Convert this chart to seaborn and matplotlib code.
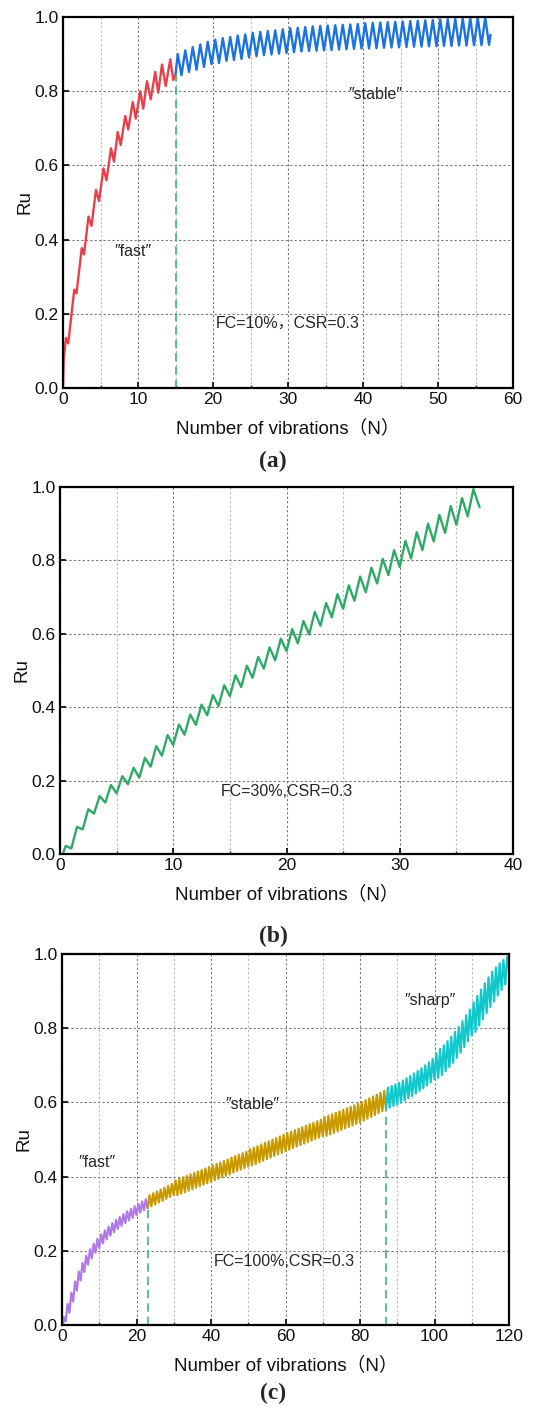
import numpy as np
import matplotlib
matplotlib.use("Agg")
import matplotlib.pyplot as plt
import seaborn as sns
from matplotlib.ticker import MultipleLocator

# ---------------- data: panel (a) FC=10% ----------------
a_red_x = [0, 0.1, 0.4, 0.7, 1.5, 1.8, 2.5, 2.8, 3.4, 3.8, 4.4, 4.8, 5.4, 5.8, 6.4, 6.8,
           7.3, 7.7, 8.3, 8.7, 9.3, 9.7, 10.3, 10.7, 11.2, 11.7, 12.3, 12.7, 13.2, 13.7,
           14.3, 14.7, 15.0]
a_red_y = [0, 0.08, 0.135, 0.12, 0.265, 0.255, 0.377, 0.36, 0.462, 0.437, 0.534, 0.504,
           0.592, 0.56, 0.646, 0.61, 0.69, 0.655, 0.733, 0.697, 0.771, 0.726, 0.80, 0.753,
           0.827, 0.778, 0.852, 0.796, 0.872, 0.814, 0.886, 0.83, 0.845]
a_blue_peaks = [0.900, 0.910, 0.919, 0.926, 0.933, 0.939, 0.943, 0.946, 0.950, 0.953,
                0.957, 0.960, 0.962, 0.964, 0.967, 0.970, 0.971, 0.973, 0.975, 0.976,
                0.977, 0.978, 0.979, 0.980, 0.981, 0.983, 0.984, 0.985, 0.986, 0.987,
                0.988, 0.989, 0.990, 0.991, 0.992, 0.993, 0.994, 0.995, 0.996, 0.997,
                0.998, 0.999]
a_blue_troughs = [0.843, 0.852, 0.858, 0.865, 0.873, 0.876, 0.882, 0.884, 0.887, 0.891,
                  0.894, 0.897, 0.899, 0.901, 0.903, 0.905, 0.907, 0.908, 0.909, 0.910,
                  0.911, 0.912, 0.913, 0.914, 0.915, 0.915, 0.916, 0.917, 0.918, 0.918,
                  0.919, 0.920, 0.920, 0.921, 0.921, 0.922, 0.922, 0.923, 0.923, 0.924,
                  0.924, 0.925]
a_blue_first_cycle = 15
a_end = (57.0, 0.952)
a_split = 15

# ---------------- data: panel (b) FC=30% ----------------
b_peaks = [0.022, 0.074, 0.122, 0.158, 0.188, 0.212, 0.235, 0.262, 0.294, 0.324, 0.353,
           0.380, 0.407, 0.433, 0.460, 0.487, 0.513, 0.537, 0.563, 0.587, 0.613, 0.635,
           0.660, 0.684, 0.708, 0.732, 0.756, 0.780, 0.804, 0.828, 0.853, 0.877, 0.900,
           0.924, 0.948, 0.970, 0.994]
b_troughs = [0.015, 0.067, 0.110, 0.140, 0.165, 0.190, 0.208, 0.238, 0.268, 0.297, 0.325,
             0.352, 0.378, 0.403, 0.430, 0.455, 0.480, 0.505, 0.528, 0.553, 0.574, 0.598,
             0.622, 0.645, 0.668, 0.690, 0.713, 0.737, 0.760, 0.782, 0.805, 0.828, 0.852,
             0.875, 0.897, 0.920]
b_start = (0.25, 0.0)
b_end = (37.05, 0.945)

# ---------------- data: panel (c) FC=100% ----------------
c_purple_peaks = [0.022, 0.057, 0.087, 0.117, 0.144, 0.167, 0.187, 0.204, 0.219, 0.232,
                  0.244, 0.255, 0.265, 0.274, 0.283, 0.291, 0.299, 0.306, 0.313, 0.320,
                  0.327, 0.333, 0.339]
c_purple_troughs = [0.010, 0.033, 0.063, 0.093, 0.120, 0.143, 0.163, 0.180, 0.195, 0.208,
                    0.220, 0.231, 0.241, 0.250, 0.259, 0.267, 0.275, 0.282, 0.289, 0.296,
                    0.303, 0.309, 0.315]
c_olive_peaks = [0.350, 0.355, 0.360, 0.365, 0.370, 0.375, 0.380, 0.390, 0.394, 0.398,
                 0.402, 0.406, 0.410, 0.414, 0.418, 0.422, 0.426, 0.430, 0.434, 0.438,
                 0.442, 0.446, 0.451, 0.455, 0.459, 0.463, 0.467, 0.474, 0.478, 0.482,
                 0.487, 0.491, 0.495, 0.500, 0.504, 0.508, 0.513, 0.517, 0.521, 0.525,
                 0.529, 0.533, 0.537, 0.541, 0.545, 0.549, 0.553, 0.560, 0.564, 0.568,
                 0.572, 0.576, 0.580, 0.584, 0.588, 0.592, 0.596, 0.601, 0.606, 0.611,
                 0.616, 0.621, 0.626, 0.631]
c_olive_troughs = [0.320, 0.325, 0.330, 0.335, 0.340, 0.345, 0.350, 0.350, 0.354, 0.358,
                   0.362, 0.366, 0.370, 0.374, 0.378, 0.382, 0.386, 0.390, 0.394, 0.398,
                   0.402, 0.406, 0.411, 0.415, 0.419, 0.423, 0.427, 0.430, 0.434, 0.438,
                   0.443, 0.447, 0.451, 0.456, 0.460, 0.464, 0.469, 0.473, 0.477, 0.481,
                   0.485, 0.489, 0.493, 0.497, 0.501, 0.505, 0.509, 0.510, 0.514, 0.518,
                   0.522, 0.526, 0.530, 0.534, 0.538, 0.542, 0.546, 0.551, 0.556, 0.561,
                   0.566, 0.571, 0.576, 0.581]
c_cyan_peaks = [0.640, 0.644, 0.648, 0.653, 0.659, 0.665, 0.671, 0.678, 0.685, 0.692,
                0.700, 0.708, 0.717, 0.732, 0.744, 0.754, 0.765, 0.777, 0.790, 0.804,
                0.819, 0.835, 0.850, 0.870, 0.887, 0.904, 0.921, 0.937, 0.952, 0.964,
                0.975, 0.984, 0.993]
c_cyan_troughs = [0.586, 0.590, 0.594, 0.599, 0.605, 0.611, 0.617, 0.624, 0.631, 0.638,
                  0.646, 0.654, 0.663, 0.666, 0.674, 0.684, 0.695, 0.707, 0.720, 0.734,
                  0.749, 0.765, 0.780, 0.790, 0.807, 0.824, 0.841, 0.857, 0.872, 0.888,
                  0.903, 0.918]
c_start = (0.3, 0.0)
c_end = (120.0, 0.957)
c_split1, c_split2 = 23, 87

# ---------------- helpers ----------------
def zigzag(first_cycle, peaks, troughs, start=None, end=None):
    px = first_cycle + np.arange(len(peaks)) + 0.5
    tx = first_cycle + np.arange(len(troughs)) + 1.0
    x = np.concatenate([px, tx])
    y = np.concatenate([peaks, troughs])
    o = np.argsort(x)
    x, y = list(x[o]), list(y[o])
    if start is not None:
        x = [start[0]] + x
        y = [start[1]] + y
    if end is not None:
        x = x + [end[0]]
        y = y + [end[1]]
    return np.array(x), np.array(y)

sns.set_style("ticks")
plt.rcParams['font.family'] = ['Liberation Sans', 'Noto Sans CJK SC', 'DejaVu Sans']

W, H = 546, 1409
fig = plt.figure(figsize=(W / 100, H / 100), dpi=100)

TICK_FS = 12.5
LABEL_FS = 13.5
ANN_FS = 11.5
LETTER_FS = 17

def make_ax(l, r, t, b):
    return fig.add_axes([l / W, 1 - b / H, (r - l) / W, (b - t) / H])

def style(ax, xmax, xmaj, xmin_):
    ax.set_xlim(0, xmax)
    ax.set_ylim(0, 1.0)
    ax.xaxis.set_major_locator(MultipleLocator(xmaj))
    ax.xaxis.set_minor_locator(MultipleLocator(xmin_))
    ax.yaxis.set_major_locator(MultipleLocator(0.2))
    ax.yaxis.set_major_formatter(matplotlib.ticker.FormatStrFormatter('%.1f'))
    ax.grid(which='major', axis='both', color='#777777', linestyle=(0, (2, 2)), linewidth=0.8)
    ax.grid(which='minor', axis='x', color='#bbbbbb', linestyle=(0, (2, 2)), linewidth=0.8)
    ax.tick_params(which='major', direction='in', length=4, width=1.2, labelsize=TICK_FS,
                   colors='black', labelcolor='#111111', top=False, right=False, pad=3)
    ax.tick_params(which='minor', direction='in', length=2.5, width=1, top=False, right=False)
    for s in ax.spines.values():
        s.set_visible(True)
        s.set_color('black')
        s.set_linewidth(1.6)
    ax.set_axisbelow(True)

def labels(ax):
    ax.set_xlabel('Number of vibrations（N）', fontsize=LABEL_FS, labelpad=9, color='#111111')
    ax.set_ylabel('Ru', fontsize=LABEL_FS, labelpad=1, color='#111111')

green_dash = '#3cb878'

# ---- panel (a)
ax = make_ax(63, 513, 17, 388)
style(ax, 60, 10, 5)
bx, by = zigzag(a_blue_first_cycle - 0.2, a_blue_peaks, a_blue_troughs,
                start=(a_red_x[-1], a_red_y[-1]), end=a_end)
sns.lineplot(x=a_red_x, y=a_red_y, ax=ax, color='#e8404a', lw=1.7, sort=False, estimator=None)
sns.lineplot(x=bx, y=by, ax=ax, color='#1a73e0', lw=1.7, sort=False, estimator=None)
ax.plot([a_split, a_split], [0, a_red_y[-1]], color=green_dash, lw=1.2, ls=(0, (5, 3)))
ax.text(9.3, 0.367, '″fast″', fontsize=ANN_FS, ha='center', va='center')
ax.text(41.7, 0.79, '″stable″', fontsize=ANN_FS, ha='center', va='center')
ax.text(30, 0.175, 'FC=10%，CSR=0.3', fontsize=ANN_FS, ha='center', va='center')
labels(ax)
fig.text(273 / W, 1 - 461 / H, '(a)', fontsize=LETTER_FS, ha='center', va='center',
         family='Liberation Serif', fontweight='bold')

# ---- panel (b)
ax = make_ax(60, 513, 487, 854)
style(ax, 40, 10, 5)
gx, gy = zigzag(0, b_peaks, b_troughs, start=b_start, end=b_end)
sns.lineplot(x=gx, y=gy, ax=ax, color='#2eaa66', lw=1.7, sort=False, estimator=None)
ax.text(20.0, 0.17, 'FC=30%,CSR=0.3', fontsize=ANN_FS, ha='center', va='center')
labels(ax)
fig.text(273 / W, 1 - 936 / H, '(b)', fontsize=LETTER_FS, ha='center', va='center',
         family='Liberation Serif', fontweight='bold')

# ---- panel (c)
ax = make_ax(62, 509, 954, 1325)
style(ax, 120, 20, 10)
px_, py_ = zigzag(0, c_purple_peaks, c_purple_troughs, start=c_start)
ox, oy = zigzag(c_split1, c_olive_peaks, c_olive_troughs, start=(px_[-1], py_[-1]))
cx, cy = zigzag(c_split2, c_cyan_peaks, c_cyan_troughs, start=(ox[-1], oy[-1]), end=c_end)
sns.lineplot(x=px_, y=py_, ax=ax, color='#b07ae6', lw=1.6, sort=False, estimator=None)
sns.lineplot(x=ox, y=oy, ax=ax, color='#c99a00', lw=1.6, sort=False, estimator=None)
sns.lineplot(x=cx, y=cy, ax=ax, color='#12c8cc', lw=1.6, sort=False, estimator=None)
ax.plot([c_split1, c_split1], [0, py_[-1]], color=green_dash, lw=1.2, ls=(0, (5, 3)))
ax.plot([c_split2, c_split2], [0, oy[-1]], color=green_dash, lw=1.2, ls=(0, (5, 3)))
ax.text(9.4, 0.438, '″fast″', fontsize=ANN_FS, ha='center', va='center')
ax.text(51, 0.595, '″stable″', fontsize=ANN_FS, ha='center', va='center')
ax.text(98.8, 0.876, '″sharp″', fontsize=ANN_FS, ha='center', va='center')
ax.text(59.7, 0.171, 'FC=100%,CSR=0.3', fontsize=ANN_FS, ha='center', va='center')
labels(ax)
fig.text(273 / W, 1 - 1393 / H, '(c)', fontsize=LETTER_FS, ha='center', va='center',
         family='Liberation Serif', fontweight='bold')

fig.savefig('out.png', dpi=100, facecolor='white')
